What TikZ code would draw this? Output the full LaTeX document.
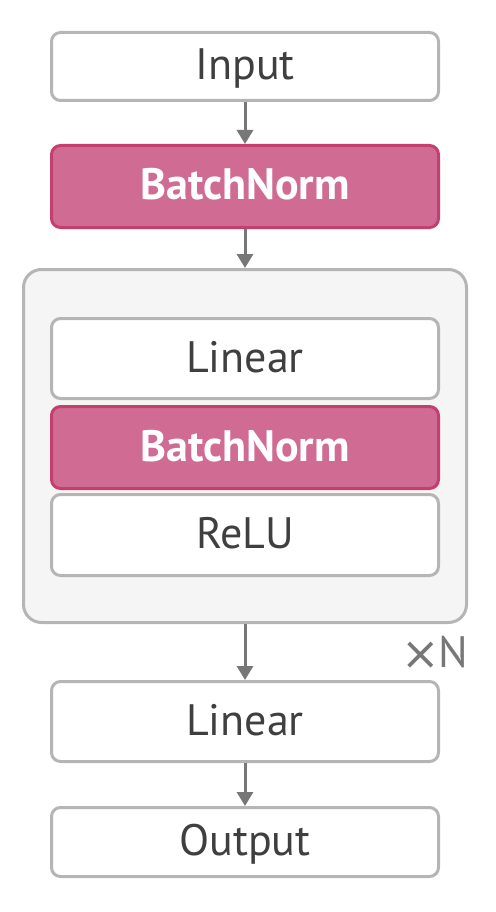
\documentclass[tikz,border=0pt]{standalone}
\usepackage{fontspec}
\setmainfont{PT Sans}
\newfontfamily\symfont{DejaVu Sans}
\usetikzlibrary{arrows.meta}

\definecolor{boxline}{HTML}{B5B5B5}
\definecolor{bnfill}{HTML}{D06C94}
\definecolor{bnline}{HTML}{C53F6E}
\definecolor{txtgray}{HTML}{3F3F3F}
\definecolor{arrgray}{HTML}{777777}
\definecolor{groupfill}{HTML}{F5F5F5}

\tikzset{
  layer/.style={rectangle,rounded corners=9pt,draw=boxline,fill=white,line width=3pt,
    minimum width=387pt,inner sep=0pt,text height=31pt,text depth=4pt,
    text=txtgray,font=\fontsize{44}{48}\selectfont},
  bnlayer/.style={layer,draw=bnline,fill=bnfill,text=white,font=\fontsize{44}{48}\selectfont\bfseries},
  flow/.style={draw=arrgray,line width=3pt,-{Triangle[width=16pt,length=14pt]}}
}

\begin{document}
\begin{tikzpicture}[x=1pt,y=-1pt]
    \useasboundingbox (0,0) rectangle (495,912);

    % Group box for the repeated block
    \node[rectangle,rounded corners=18pt,draw=boxline,fill=groupfill,line width=3pt,
      minimum width=443pt,minimum height=353pt] (group) at (245,446) {};

    % Nodes for the layers
    \node[layer,minimum height=68pt] (input) at (245,66.5) {Input};
    \node[bnlayer,minimum height=82pt] (bn1) at (245,186.5) {BatchNorm};
    \node[layer,minimum height=80pt] (lin1) at (245,358.5) {Linear};
    \node[bnlayer,minimum height=82pt] (bn2) at (245,447.5) {BatchNorm};
    \node[layer,minimum height=81pt] (relu) at (245,535) {ReLU};
    \node[layer,minimum height=80pt] (lin2) at (245,721.5) {Linear};
    \node[layer,minimum height=69pt] (output) at (245,842) {Output};

    % Repeat label
    \node[text=arrgray,font=\fontsize{44}{48}\selectfont,inner sep=0pt,anchor=base east] (times) at (468,667)
      {\raisebox{-2pt}{\symfont\fontsize{46}{46}\selectfont ×}\kern-2pt N};

    % Edges between the layers
    \draw[flow] (input) -- (bn1);
    \draw[flow] (bn1) -- (group);
    \draw[flow] (group) -- (lin2);
    \draw[flow] (lin2) -- (output);
\end{tikzpicture}
\end{document}
